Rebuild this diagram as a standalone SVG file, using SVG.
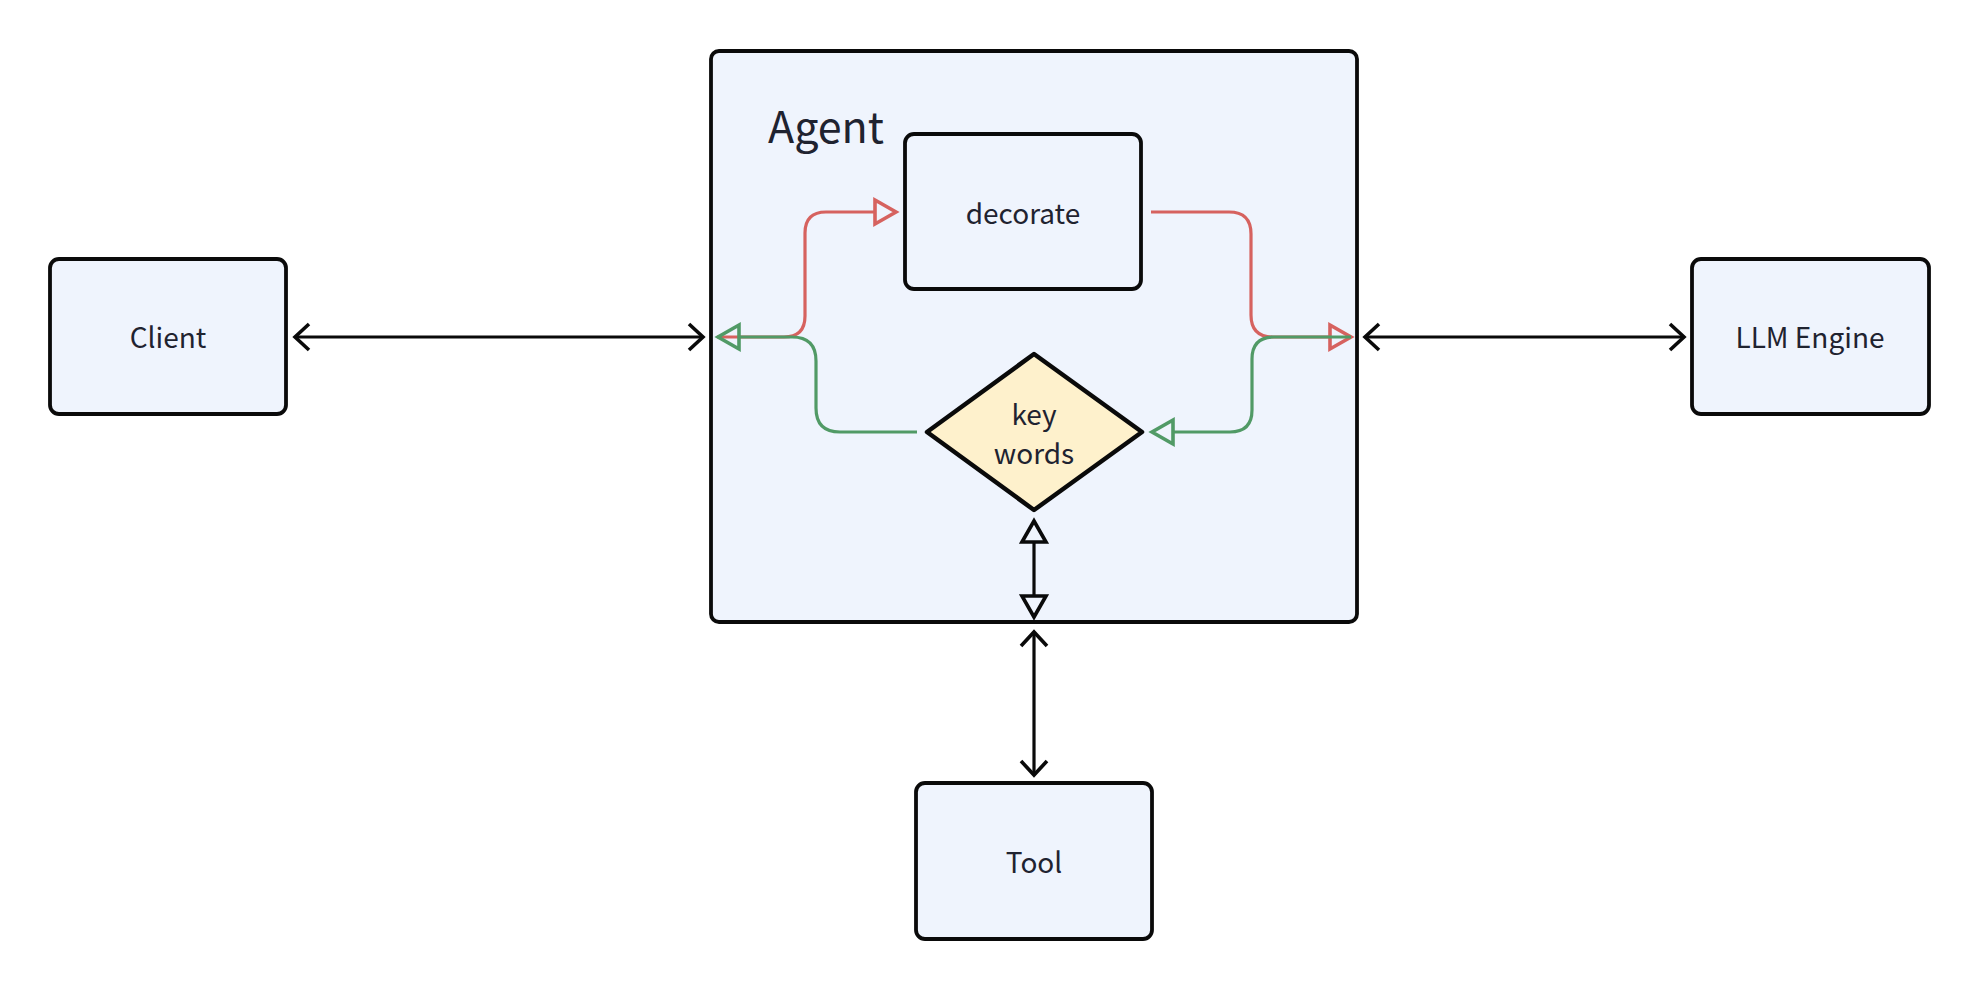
<svg xmlns="http://www.w3.org/2000/svg" width="1978" height="988" viewBox="0 0 1978 988">
<style>
.box{fill:#eff4fd;stroke:#0a0a0a;stroke-width:3.8}
.dia{fill:#fef1cc;stroke:#0a0a0a;stroke-width:4.5;stroke-linejoin:round}
.t{font-family:"Noto Sans CJK SC","Noto Sans",sans-serif;font-size:28px;fill:#1f2330;text-anchor:middle}
.big{font-family:"Noto Sans CJK SC","Noto Sans",sans-serif;font-size:43px;fill:#1f2330}
.blk{fill:none;stroke:#0a0a0a;stroke-width:3.2}
.red{fill:none;stroke:#d6625f;stroke-width:3.2}
.grn{fill:none;stroke:#519a66;stroke-width:3.2}
</style>
<defs>
<marker id="chev" markerUnits="userSpaceOnUse" viewBox="-20 -20 40 40" markerWidth="40" markerHeight="40" refX="0" refY="0" orient="auto-start-reverse" overflow="visible">
<path d="M-14,-13 L0,0 L-14,13" fill="none" stroke="#0a0a0a" stroke-width="3.6" stroke-linejoin="miter"/>
</marker>
<marker id="triB" markerUnits="userSpaceOnUse" viewBox="-5 -20 40 40" markerWidth="40" markerHeight="40" refX="0" refY="0" orient="auto-start-reverse" overflow="visible">
<path d="M0,-12 L21,0 L0,12 Z" fill="#eff4fd" stroke="#0a0a0a" stroke-width="3.6"/>
</marker>
<marker id="triR" markerUnits="userSpaceOnUse" viewBox="-5 -20 40 40" markerWidth="40" markerHeight="40" refX="0" refY="0" orient="auto" overflow="visible">
<path d="M0,-12 L21,0 L0,12 Z" fill="none" stroke="#d6625f" stroke-width="3.6"/>
</marker>
<marker id="triG" markerUnits="userSpaceOnUse" viewBox="-5 -20 40 40" markerWidth="40" markerHeight="40" refX="0" refY="0" orient="auto" overflow="visible">
<path d="M0,-12 L21,0 L0,12 Z" fill="none" stroke="#519a66" stroke-width="3.6"/>
</marker>
</defs>
<rect width="1978" height="988" fill="#ffffff"/>
<g id="agent">
<rect class="box" x="711" y="51" width="646" height="571" rx="8"/>
<text class="big" x="768" y="143">Agent</text>
</g>
<g id="client">
<rect class="box" x="50" y="259" width="236" height="155" rx="9"/>
<text class="t" x="168" y="348">Client</text>
</g>
<g id="llm">
<rect class="box" x="1692" y="259" width="237" height="155" rx="9"/>
<text class="t" x="1810" y="348">LLM Engine</text>
</g>
<g id="tool">
<rect class="box" x="916" y="783" width="236" height="156" rx="9"/>
<text class="t" x="1034" y="873">Tool</text>
</g>
<g id="decorate">
<rect class="box" x="905" y="134" width="236" height="155" rx="9"/>
<text class="t" x="1023" y="224">decorate</text>
</g>
<g id="keywords">
<polygon class="dia" points="1034,354 1142,432 1034,510 927,432"/>
<text class="t" x="1034" y="425">key</text>
<text class="t" x="1034" y="464">words</text>
</g>
<g id="connectors">
<line class="blk" x1="295" y1="337" x2="703" y2="337" marker-start="url(#chev)" marker-end="url(#chev)"/>
<line class="blk" x1="1365" y1="337" x2="1684" y2="337" marker-start="url(#chev)" marker-end="url(#chev)"/>
<line class="blk" x1="1034" y1="632" x2="1034" y2="775" marker-start="url(#chev)" marker-end="url(#chev)"/>
<line class="blk" x1="1034" y1="542" x2="1034" y2="596" marker-start="url(#triB)" marker-end="url(#triB)"/>
<path class="red" d="M717,337 H784 Q805,337 805,316 V233 Q805,212 826,212 H875" marker-end="url(#triR)"/>
<path class="red" d="M1151,212 H1229 Q1251,212 1251,234 V315 Q1251,337 1273,337 H1330" marker-end="url(#triR)"/>
<path class="grn" d="M917,432 H840 Q816,432 816,408 V361 Q816,337 792,337 H739" marker-end="url(#triG)"/>
<path class="grn" d="M1351,337 H1274 Q1252,337 1252,359 V410 Q1252,432 1230,432 H1173" marker-end="url(#triG)"/>
</g>
</svg>
